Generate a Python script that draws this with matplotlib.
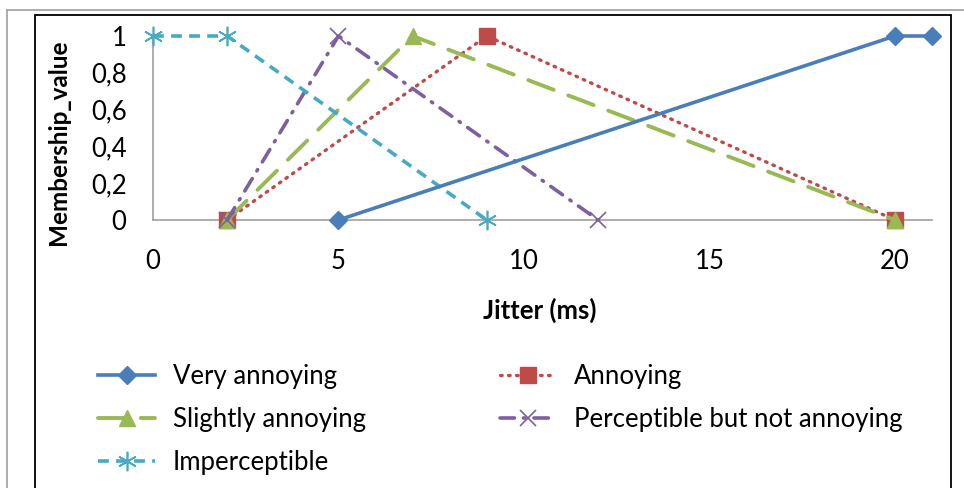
import matplotlib
matplotlib.use("Agg")
import matplotlib.pyplot as plt
from matplotlib.patches import Rectangle
from matplotlib.lines import Line2D

plt.rcParams['font.family'] = ['Lato', 'DejaVu Sans']

# data
va_x = [5, 20, 21]
va_y = [0, 1, 1]
ann_x = [2, 9, 20]
ann_y = [0, 1, 0]
sa_x = [2, 7, 20]
sa_y = [0, 1, 0]
pna_x = [2, 5, 12]
pna_y = [0, 1, 0]
imp_x = [0, 2, 9]
imp_y = [1, 1, 0]

yticks = [0, 0.2, 0.4, 0.6, 0.8, 1]
ytick_labels = ['0', '0,2', '0,4', '0,6', '0,8', '1']
xticks = [0, 5, 10, 15, 20]

fig = plt.figure(figsize=(9.64, 4.88), dpi=100)
ax = fig.add_axes([153/964, 1-220/488, (932-153)/964, (220-36)/488])

h_va, = ax.plot(va_x, va_y, color='#4a7ebb', lw=2.6, marker='D', ms=9,
                label='Very annoying', clip_on=False, zorder=5)
h_ann, = ax.plot(ann_x, ann_y, color='#be4b48', lw=2.4, ls=(0, (0.5, 1.9)),
                 dash_capstyle='round', marker='s', ms=12,
                 label='Annoying', clip_on=False, zorder=4)
h_sa, = ax.plot(sa_x, sa_y, color='#98b954', lw=2.8, ls=(0, (7, 4)),
                dash_capstyle='round', marker='^', ms=12,
                label='Slightly annoying', clip_on=False, zorder=4)
h_pna, = ax.plot(pna_x, pna_y, color='#7d60a0', lw=2.6, ls=(0, (4, 2.5, 0.4, 2.5)),
                 dash_capstyle='round', marker='x', ms=11, mew=1.2,
                 label='Perceptible but not annoying', clip_on=False, zorder=4)
h_imp, = ax.plot(imp_x, imp_y, color='#46aac5', lw=2.6, ls=(0, (3, 2)),
                 marker=(6, 2, 0), ms=14, mew=1.2,
                 label='Imperceptible', clip_on=False, zorder=4)

ax.set_xlim(0, 21)
ax.set_ylim(0, 1)
ax.set_xticks(xticks)
ax.set_yticks(yticks)
ax.set_yticklabels(ytick_labels)
ax.tick_params(length=0, labelsize=18.5, colors='black')
ax.tick_params(axis='x', pad=21)
ax.tick_params(axis='y', pad=19)
for s in ['top', 'right']:
    ax.spines[s].set_visible(False)
for s in ['left', 'bottom']:
    ax.spines[s].set_color('#a0a0a0')
    ax.spines[s].set_linewidth(1.2)

# axis titles placed where they sit in the original
fig.text(540/964, 1-310/488, 'Jitter (ms)', fontsize=18.5, fontweight='bold',
         ha='center', va='center')
fig.text(58/964, 1-142/488, 'Membership_value', fontsize=17.5, fontweight='bold',
         ha='center', va='center', rotation=90)

handles = [h_va, h_sa, h_imp, h_ann, h_pna]
fig.legend(handles=handles, labels=[h.get_label() for h in handles],
           ncol=2, frameon=False, loc='upper left', bbox_to_anchor=(88/964, 1-354/488),
           fontsize=18.5, handlelength=2.2, columnspacing=5.2, labelspacing=0.7,
           handletextpad=0.7, borderaxespad=0)

# frames
fig.patches.append(Rectangle((35/964, -0.05), (951-35)/964, 1-15/488 + 0.05,
                             transform=fig.transFigure, fill=False,
                             edgecolor='black', lw=1.3))
fig.lines.append(Line2D([7/964, 1], [1-10/488, 1-10/488], transform=fig.transFigure,
                        color='#a0a0a0', lw=1.2))
fig.lines.append(Line2D([7/964, 7/964], [0, 1-10/488], transform=fig.transFigure,
                        color='#a0a0a0', lw=1.2))

fig.savefig('out.png', dpi=100)
